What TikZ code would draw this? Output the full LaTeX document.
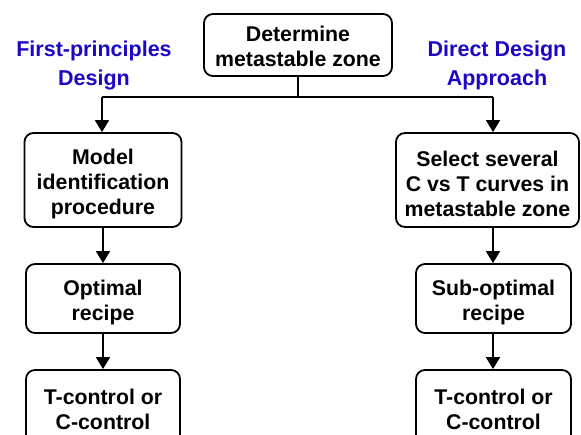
\documentclass[tikz,border=0pt]{standalone}
\usepackage{fontspec}
\setmainfont{Liberation Sans}
\usetikzlibrary{arrows.meta}
\definecolor{headblue}{RGB}{28,8,196}
% invisible struts that set the top of a box's first text line
\newcommand\fstop{\rule{0pt}{1.1em}}
\newcommand\fslow{\rule{0pt}{0.9em}}
\tikzset{
  stepbox/.style={draw, line width=1.8pt, rounded corners=9pt, align=center,
    inner sep=0pt, font=\fontsize{21.3}{25}\selectfont\bfseries},
  headtext/.style={align=center, text=headblue, inner sep=0pt,
    font=\fontsize{21.5}{28.5}\selectfont\bfseries},
  link/.style={line width=1.8pt, -{Triangle[length=12pt,width=14pt]}},
  plain/.style={line width=1.8pt}
}
\begin{document}
\begin{tikzpicture}[x=1pt,y=-1pt]
\clip (0,0) rectangle (581,435);
\fill[white] (0,0) rectangle (581,435);

% top step
\node[stepbox, minimum width=188pt, minimum height=62pt] (top) at (298,45)
  {\fslow Determine\\metastable zone};

% branch headings
\node[headtext] (lefthead) at (94,65.5) {First-principles\\Design};
\node[headtext] (righthead) at (497,65.5) {Direct Design\\Approach};

% left column
\node[stepbox, minimum width=157pt, minimum height=94pt] (l1) at (103,180)
  {\fstop Model\\identification\\procedure};
\node[stepbox, minimum width=154pt, minimum height=69pt] (l2) at (103,298.5)
  {\fstop Optimal\\recipe};
\node[stepbox, minimum width=154pt, minimum height=75pt] (l3) at (103,407.5)
  {\fslow T-control or\\C-control};

% right column
\node[stepbox, minimum width=183pt, minimum height=94pt] (r1) at (487.5,180)
  {\fstop Select several\\C vs T curves in\\metastable zone};
\node[stepbox, minimum width=155pt, minimum height=69pt] (r2) at (493.5,298.5)
  {\fstop Sub-optimal\\recipe};
\node[stepbox, minimum width=155pt, minimum height=75pt] (r3) at (493.5,407.5)
  {\fslow T-control or\\C-control};

% split line under the top step
\coordinate (split) at (298,97);
\coordinate (splitL) at (102,97);
\coordinate (splitR) at (493,97);
\draw[plain] (top.south) -- (split);
\draw[plain] (splitL) -- (splitR);
\draw[link] (splitL) -- (splitL |- l1.north);
\draw[link] (splitR) -- (splitR |- r1.north);

% flow within each column
\draw[link] (l1.south) -- (l2.north);
\draw[link] (l2.south) -- (l3.north);
\draw[link] (splitR |- r1.south) -- (splitR |- r2.north);
\draw[link] (splitR |- r2.south) -- (splitR |- r3.north);
\end{tikzpicture}
\end{document}
